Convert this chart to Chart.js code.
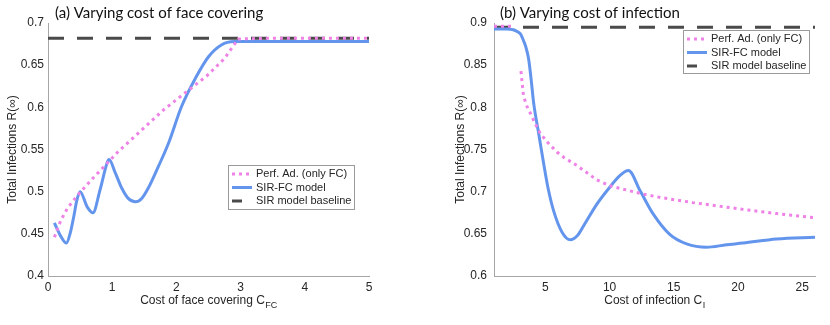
<!DOCTYPE html>
<html>
<head>
<meta charset="utf-8">
<script src="https://cdn.jsdelivr.net/npm/chart.js@4.4.0/dist/chart.umd.min.js"></script>
<style>
  html, body { margin: 0; padding: 0; background: #fff; }
  #wrap { position: relative; width: 830px; height: 325px; }
  #wrap canvas { position: absolute; top: 0; }
  #faceChart { left: 0; }
  #infChart { left: 415px; }
</style>
</head>
<body>
<div id="wrap">
  <canvas id="faceChart" width="415" height="325"></canvas>
  <canvas id="infChart" width="415" height="325"></canvas>
</div>
<script>
// (a) varying cost of face covering
const faceSirX = [0.1, 0.2, 0.285, 0.35, 0.4, 0.45, 0.5, 0.61, 0.7, 0.81, 0.92, 0.95, 1.05, 1.15, 1.25, 1.36, 1.46, 1.56, 1.72, 1.88, 2.08, 2.3, 2.5, 2.7, 2.9, 3.2, 4.0, 5.0];
const faceSirY = [0.463, 0.447, 0.439, 0.452, 0.47, 0.49, 0.5, 0.482, 0.475, 0.502, 0.534, 0.538, 0.522, 0.504, 0.492, 0.488, 0.492, 0.504, 0.53, 0.558, 0.601, 0.635, 0.66, 0.674, 0.678, 0.678, 0.678, 0.678];
const facePerfX = [0.1, 0.2, 0.3, 0.4, 0.5, 0.7, 1.0, 1.1, 1.5, 1.8, 2.1, 2.47, 2.75, 2.96, 3.5, 5.0];
const facePerfY = [0.446, 0.466, 0.48, 0.49, 0.499, 0.516, 0.54, 0.548, 0.576, 0.597, 0.615, 0.637, 0.658, 0.681, 0.682, 0.682];
const faceBaseX = [0, 5];
const faceBaseY = [0.682, 0.682];
const faceXTicks = [0, 1, 2, 3, 4, 5];

// (b) varying cost of infection
const infSirX = [1, 2, 2.5, 2.8, 3.06, 3.3, 3.45, 3.7, 3.9, 4.09, 4.48, 4.87, 5.2, 5.65, 6.3, 6.94, 7.5, 8, 9, 10, 10.8, 11.47, 12.38, 13.42, 14.71, 16, 17.56, 19.1, 20.4, 23, 26];
const infSirY = [0.893, 0.893, 0.892, 0.89, 0.887, 0.879, 0.873, 0.857, 0.832, 0.805, 0.769, 0.733, 0.705, 0.677, 0.652, 0.643, 0.648, 0.66, 0.685, 0.705, 0.719, 0.725, 0.701, 0.673, 0.649, 0.638, 0.634, 0.637, 0.639, 0.644, 0.646];
const infPerfX = [1, 1.5, 2, 2.55, 2.8, 3.1, 3.3, 3.6, 3.83, 4.2, 4.6, 5.2, 5.9, 6.5, 7.46, 9, 10, 12.63, 14, 16.5, 20.4, 23, 26];
const infPerfY = [0.896, 0.896, 0.896, 0.896, null, 0.843, 0.813, 0.8, 0.793, 0.781, 0.769, 0.758, 0.747, 0.74, 0.731, 0.714, 0.707, 0.697, 0.693, 0.687, 0.679, 0.674, 0.669];
const infBaseX = [1, 26];
const infBaseY = [0.895, 0.895];
const infXTicks = [5, 10, 15, 20, 25];

const seriesLabels = ['Perf. Ad. (only FC)', 'SIR-FC model', 'SIR model baseline'];

const pink = 'rgb(238,130,230)';
const blue = 'rgb(100,149,237)';
const dark = 'rgb(74,74,74)';
const axisGray = '#a6a6a6';
const txt = '#262626';
const sans = '"Liberation Sans", Arial, sans-serif';

function pts(xs, ys) {
  return xs.map((x, i) => ({ x: x, y: ys[i] }));
}

function makeDatasets(perfX, perfY, sirX, sirY, baseX, baseY) {
  return [
    {
      label: seriesLabels[0], data: pts(perfX, perfY),
      borderColor: pink, borderWidth: 3, borderDash: [3, 4], borderCapStyle: 'butt',
      pointRadius: 0, tension: 0, spanGaps: false
    },
    {
      label: seriesLabels[1], data: pts(sirX, sirY),
      borderColor: blue, borderWidth: 3, cubicInterpolationMode: 'monotone',
      pointRadius: 0
    },
    {
      label: seriesLabels[2], data: pts(baseX, baseY),
      borderColor: dark, borderWidth: 3, borderDash: [16, 13],
      pointRadius: 0
    }
  ];
}

// panel title, x title with subscript and the boxed legend
const extras = {
  id: 'extras',
  afterDraw(chart, args, o) {
    const ctx = chart.ctx;
    const area = chart.chartArea;
    ctx.save();
    ctx.fillStyle = '#111';
    ctx.textAlign = 'left';
    ctx.textBaseline = 'alphabetic';
    ctx.font = '15px Lato, sans-serif';
    ctx.fillText(o.title, o.titleX, 18);

    // x axis title
    ctx.fillStyle = txt;
    ctx.font = '12px ' + sans;
    const w1 = ctx.measureText(o.xTitle).width;
    ctx.font = '9px ' + sans;
    const w2 = ctx.measureText(o.xSub).width;
    const x0 = (area.left + area.right) / 2 - (w1 + w2) / 2;
    ctx.font = '12px ' + sans;
    ctx.fillText(o.xTitle, x0, 304);
    ctx.font = '9px ' + sans;
    ctx.fillText(o.xSub, x0 + w1 + 0.5, 308);

    // legend
    const b = o.legend;
    ctx.fillStyle = '#fff';
    ctx.fillRect(b.x, b.y, b.w, b.h);
    ctx.strokeStyle = '#9a9a9a';
    ctx.lineWidth = 1;
    ctx.strokeRect(b.x + 0.5, b.y + 0.5, b.w, b.h);
    chart.data.datasets.forEach((ds, i) => {
      const yy = b.y + 9 + i * 13.5;
      ctx.beginPath();
      ctx.setLineDash(ds.borderDash || []);
      ctx.lineWidth = ds.borderWidth;
      ctx.strokeStyle = ds.borderColor;
      const s1 = i === 2 ? b.x + 14 : b.x + 24;
      ctx.moveTo(b.x + 4, yy);
      ctx.lineTo(s1, yy);
      ctx.stroke();
      ctx.setLineDash([]);
      ctx.fillStyle = txt;
      ctx.font = '11px ' + sans;
      ctx.textBaseline = 'middle';
      ctx.fillText(ds.label, b.x + 28, yy);
    });
    ctx.restore();
  }
};

function makeChart(id, cfg) {
  return new Chart(document.getElementById(id), {
    type: 'line',
    data: { datasets: cfg.datasets },
    plugins: [extras],
    options: {
      responsive: false,
      animation: false,
      layout: { padding: { left: cfg.padLeft, right: cfg.padRight, top: 23, bottom: 0 } },
      plugins: {
        legend: { display: false },
        tooltip: { enabled: false },
        extras: cfg.extras
      },
      scales: {
        x: {
          type: 'linear', min: cfg.xMin, max: cfg.xMax,
          afterBuildTicks: s => { s.ticks = cfg.xTicks.map(v => ({ value: v })); },
          afterFit: s => { s.height = 49; },
          grid: { display: true, color: 'rgba(0,0,0,0)', drawTicks: false },
          border: { display: true, color: axisGray, width: 1 },
          ticks: { color: txt, font: { family: sans, size: 12 }, padding: 4, maxRotation: 0 }
        },
        y: {
          min: cfg.yMin, max: cfg.yMax,
          afterFit: s => { s.width = cfg.yWidth; },
          grid: { display: true, color: 'rgba(0,0,0,0)', drawTicks: false },
          border: { display: true, color: axisGray, width: 1 },
          ticks: {
            stepSize: 0.05, color: txt, font: { family: sans, size: 12 }, padding: cfg.yPad,
            callback: v => String(+v.toFixed(2))
          },
          title: {
            display: true, text: 'Total Infections R(∞)', color: txt,
            font: { family: sans, size: 12 }, padding: 0
          }
        }
      }
    }
  });
}

makeChart('faceChart', {
  datasets: makeDatasets(facePerfX, facePerfY, faceSirX, faceSirY, faceBaseX, faceBaseY),
  xMin: 0, xMax: 5, xTicks: faceXTicks, yMin: 0.4, yMax: 0.7,
  padLeft: 5, padRight: 46, yWidth: 43, yPad: 4,
  extras: {
    title: '(a) Varying cost of face covering', titleX: 55,
    xTitle: 'Cost of face covering C', xSub: 'FC',
    legend: { x: 228, y: 165, w: 126, h: 44 }
  }
});

makeChart('infChart', {
  datasets: makeDatasets(infPerfX, infPerfY, infSirX, infSirY, infBaseX, infBaseY),
  xMin: 1, xMax: 26, xTicks: infXTicks, yMin: 0.6, yMax: 0.9,
  padLeft: 38, padRight: 15, yWidth: 41, yPad: 7,
  extras: {
    title: '(b) Varying cost of infection', titleX: 85,
    xTitle: 'Cost of infection C', xSub: 'I',
    legend: { x: 268, y: 30, w: 126, h: 43 }
  }
});
</script>
</body>
</html>
